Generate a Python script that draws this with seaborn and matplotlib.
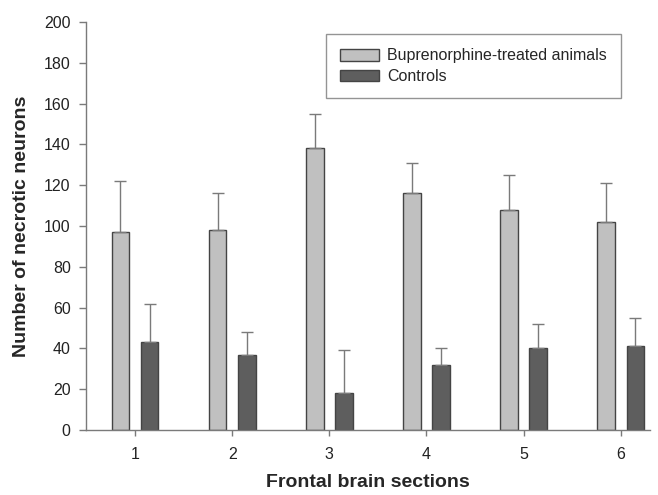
import pandas as pd
import matplotlib
matplotlib.use("Agg")
import matplotlib.pyplot as plt
import seaborn as sns

# Values
sections = ["1", "2", "3", "4", "5", "6"]
bup_mean = [97, 98, 138, 116, 108, 102]
bup_err = [25, 18, 17, 15, 17, 19]
ctrl_mean = [43, 37, 18, 32, 40, 41]
ctrl_err = [19, 11, 21, 8, 12, 14]
groups = ["Buprenorphine-treated animals", "Controls"]

df = pd.DataFrame({
    "section": sections * 2,
    "count": bup_mean + ctrl_mean,
    "group": [groups[0]] * 6 + [groups[1]] * 6,
})

sns.set_style("white")
plt.rcParams["font.family"] = ["Liberation Sans", "DejaVu Sans"]

fig = plt.figure(figsize=(6.58, 4.95), dpi=100)
ax = fig.add_axes([0.1307, 0.1313, 0.857, 0.8243])

sns.barplot(data=df, x="section", y="count", hue="group", order=sections,
            hue_order=groups, palette=["#c0c0c0", "#5e5e5e"],
            width=0.6, gap=0.4, edgecolor="#444444", linewidth=1.0,
            errorbar=None, ax=ax)

# upper-only error bars placed on the seaborn bars
errs = bup_err + ctrl_err
for patch, e in zip(ax.patches[:12], errs):
    xc = patch.get_x() + patch.get_width() / 2
    top = patch.get_height()
    ax.errorbar(xc, top, yerr=[[0], [e]], fmt="none", ecolor="#7a7a7a",
                elinewidth=1.0, capsize=4.3, capthick=1.0, zorder=1)

ax.set_xlim(-0.505, 5.3)
ax.set_ylim(0, 200)
ax.set_yticks(range(0, 201, 20))
ax.set_xlabel("Frontal brain sections", fontsize=14, fontweight="bold")
ax.set_ylabel("Number of necrotic neurons", fontsize=14, fontweight="bold")
ax.xaxis.set_label_coords(0.5, -0.108)
ax.yaxis.set_label_coords(-0.1, 0.5)
ax.tick_params(axis="both", labelsize=11.5, colors="#7a7a7a", labelcolor="#222222",
               direction="out", width=1.0, bottom=True, left=True)
ax.tick_params(axis="x", length=4, pad=8)
ax.tick_params(axis="y", length=5, pad=6)

sns.despine(ax=ax)
for side in ["left", "bottom"]:
    ax.spines[side].set_color("#7a7a7a")
    ax.spines[side].set_linewidth(1.0)

leg = ax.legend(loc="upper right", bbox_to_anchor=(0.9486, 0.9706), fontsize=11.5,
                frameon=True, fancybox=False, edgecolor="#7a7a7a",
                handlelength=2.4, handleheight=0.75, handletextpad=0.5,
                labelspacing=0.35, borderpad=0.9, borderaxespad=0)
leg.get_frame().set_linewidth(1.0)

fig.savefig("out.png", dpi=100)
